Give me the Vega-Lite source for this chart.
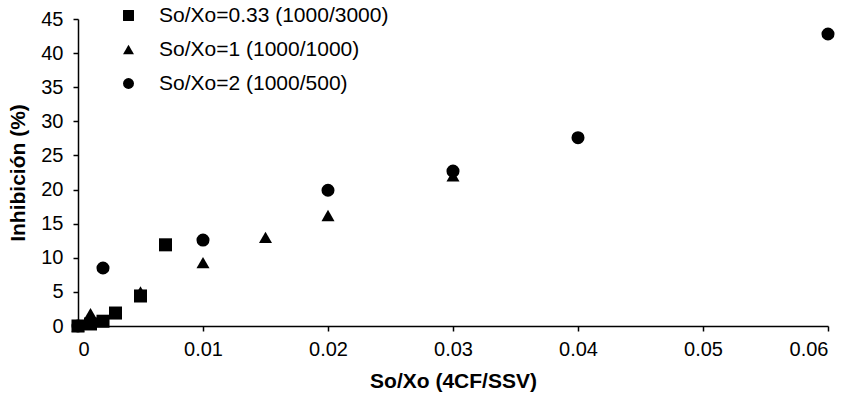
{
  "$schema": "https://vega.github.io/schema/vega-lite/v6.json",
  "autosize": "none",
  "width": 750,
  "height": 307,
  "padding": {"left": 78, "top": 19, "right": 25, "bottom": 82},
  "background": "white",
  "config": {
    "view": {"stroke": null},
    "font": "Liberation Sans",
    "axis": {"grid": false, "domainColor": "black", "tickColor": "black", "labelColor": "black", "titleColor": "black", "labelFontSize": 20, "titleFontSize": 21, "titleFontWeight": "bold", "tickSize": 5, "domainWidth": 1.5, "tickWidth": 1.5}
  },
  "data": {
    "values": [
      {"serie": "So/Xo=0.33 (1000/3000)", "x": 0, "y": 0},
      {"serie": "So/Xo=0.33 (1000/3000)", "x": 0.001, "y": 0.3},
      {"serie": "So/Xo=0.33 (1000/3000)", "x": 0.002, "y": 0.7},
      {"serie": "So/Xo=0.33 (1000/3000)", "x": 0.003, "y": 1.9},
      {"serie": "So/Xo=0.33 (1000/3000)", "x": 0.005, "y": 4.4},
      {"serie": "So/Xo=0.33 (1000/3000)", "x": 0.007, "y": 11.9},
      {"serie": "So/Xo=1 (1000/1000)", "x": 0, "y": 0},
      {"serie": "So/Xo=1 (1000/1000)", "x": 0.001, "y": 1.8},
      {"serie": "So/Xo=1 (1000/1000)", "x": 0.005, "y": 5.0},
      {"serie": "So/Xo=1 (1000/1000)", "x": 0.01, "y": 9.3},
      {"serie": "So/Xo=1 (1000/1000)", "x": 0.015, "y": 13.0},
      {"serie": "So/Xo=1 (1000/1000)", "x": 0.02, "y": 16.2},
      {"serie": "So/Xo=1 (1000/1000)", "x": 0.03, "y": 22.0},
      {"serie": "So/Xo=2 (1000/500)", "x": 0, "y": 0},
      {"serie": "So/Xo=2 (1000/500)", "x": 0.002, "y": 8.5},
      {"serie": "So/Xo=2 (1000/500)", "x": 0.01, "y": 12.6},
      {"serie": "So/Xo=2 (1000/500)", "x": 0.02, "y": 19.9},
      {"serie": "So/Xo=2 (1000/500)", "x": 0.03, "y": 22.7},
      {"serie": "So/Xo=2 (1000/500)", "x": 0.04, "y": 27.6},
      {"serie": "So/Xo=2 (1000/500)", "x": 0.06, "y": 42.8}
    ]
  },
  "mark": {"type": "point", "filled": true, "color": "black", "opacity": 1, "size": 170},
  "encoding": {
    "x": {"field": "x", "type": "quantitative", "title": "So/Xo (4CF/SSV)",
      "scale": {"domain": [0, 0.06], "nice": false},
      "axis": {"values": [0, 0.01, 0.02, 0.03, 0.04, 0.05, 0.06], "format": "~g", "labelPadding": 8, "titlePadding": 11}},
    "y": {"field": "y", "type": "quantitative", "title": "Inhibición (%)",
      "scale": {"domain": [0, 45], "nice": false},
      "axis": {"values": [0, 5, 10, 15, 20, 25, 30, 35, 40, 45], "labelPadding": 10, "titlePadding": 12}},
    "shape": {"field": "serie", "type": "nominal", "title": null,
      "scale": {"domain": ["So/Xo=0.33 (1000/3000)", "So/Xo=1 (1000/1000)", "So/Xo=2 (1000/500)"], "range": ["square", "triangle-up", "circle"]},
      "legend": {"orient": "none", "legendX": 40, "legendY": -14, "labelFontSize": 21, "labelLimit": 400, "symbolSize": 120, "symbolFillColor": "black", "symbolStrokeColor": "black", "rowPadding": 12, "labelOffset": 20, "labelColor": "black"}}
  }
}
